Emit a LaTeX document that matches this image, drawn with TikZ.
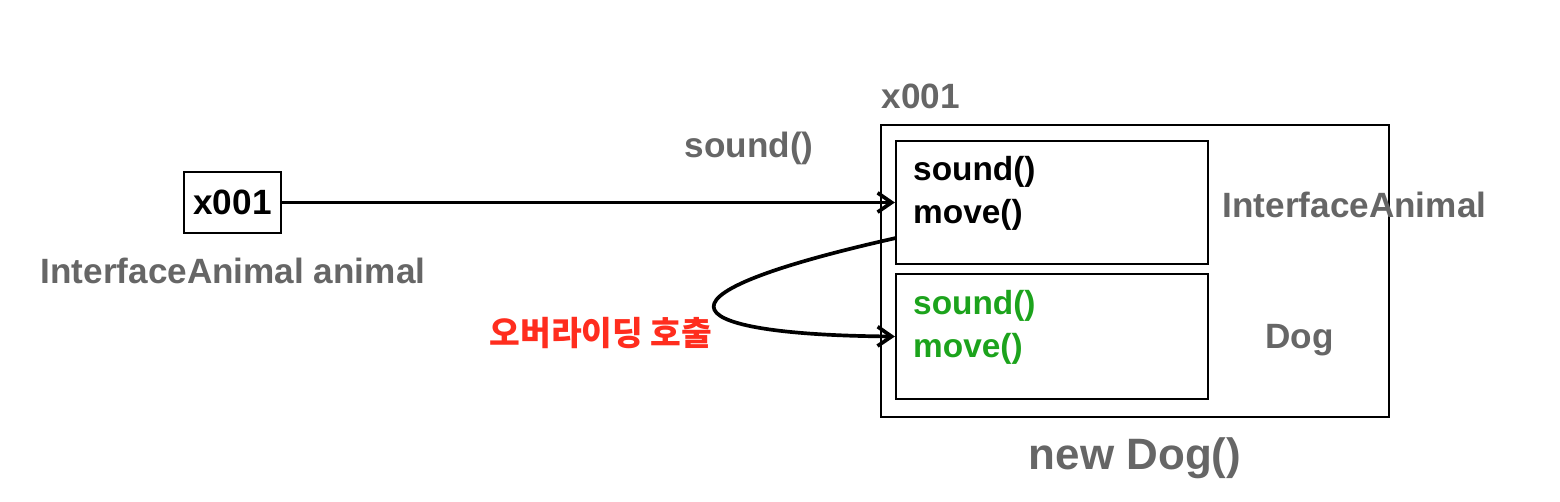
\documentclass[tikz,border=0pt]{standalone}
\usepackage{fontspec}
\setmainfont{Liberation Sans}
\newfontfamily\kofont{Noto Sans CJK KR}
\usetikzlibrary{arrows.meta}
\definecolor{labelgray}{RGB}{102,102,102}
\definecolor{overgreen}{RGB}{28,163,28}
\definecolor{callred}{RGB}{255,45,30}
\tikzset{
  box/.style={draw=black, line width=1.3pt, inner sep=0pt},
  ref/.style={line width=2.1pt, -{Straight Barb[length=8pt,width=11pt]}},
  big/.style={font=\fontsize{20}{24.5}\selectfont\bfseries},
  meth/.style={font=\fontsize{19}{24.5}\selectfont\bfseries, anchor=west, align=left},
  lbl/.style={big, text=labelgray},
}
\begin{document}
\begin{tikzpicture}[x=0.02cm, y=-0.02cm]
\useasboundingbox (0,0) rectangle (1560,502);
\node (var) at (232.5,202.5) [box, big, minimum width=1.94cm, minimum height=1.22cm] {x001};
\node (varlabel) at (233,271) [lbl] {InterfaceAnimal animal};
\node (obj) at (1135,271) [box, minimum width=10.16cm, minimum height=5.84cm] {};
\node (objaddr) at (921,96) [lbl] {x001};
\node (objlabel) at (1135,458) [lbl, font=\fontsize{25}{30}\selectfont\bfseries] {new Dog()};
\node (iface) at (1052,202.5) [box, minimum width=6.24cm, minimum height=2.46cm] {};
\node (dog) at (1052,336.5) [box, minimum width=6.24cm, minimum height=2.5cm] {};
\node (ifacemeth) at (907,193.5) [meth] {sound()\\move()};
\node (dogmeth) at (907,327) [meth, text=overgreen] {sound()\\move()};
\node (ifacelabel) at (1354.5,205) [lbl] {InterfaceAnimal};
\node (doglabel) at (1299.5,340) [lbl] {Dog};
\node (calllabel) at (749,148) [lbl] {sound()};
\node (overlabel) at (601,333) [text=callred, font=\kofont\bfseries\fontsize{19}{24}\selectfont] {오버라이딩 호출};
\coordinate (callstart) at (896,238);
% call and override
\draw [ref] (var) -- (iface);
\draw [ref] (callstart) .. controls (620,300) and (690,335) .. (dog.west);
\end{tikzpicture}
\end{document}
